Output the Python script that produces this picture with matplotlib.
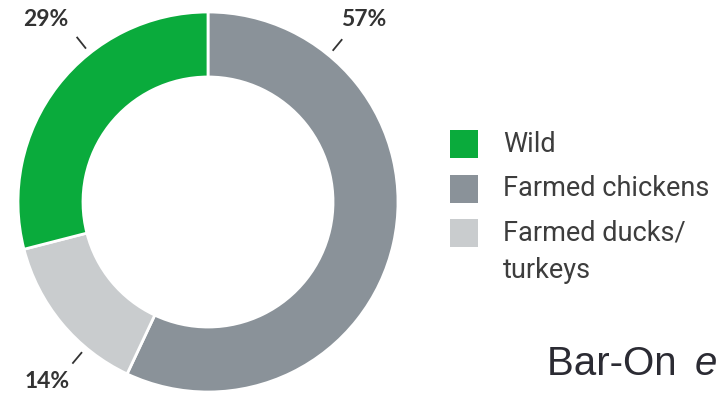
import matplotlib
matplotlib.use("Agg")
import matplotlib.pyplot as plt
from matplotlib.patches import Rectangle
import numpy as np

# Share of bird biomass by group
categories = ["Farmed chickens", "Farmed ducks/\nturkeys", "Wild"]
shares = [57, 14, 29]
colors = ["#8a9299", "#c9ccce", "#0aab3c"]
legend_order = [2, 0, 1]
pct_labels = ["57%", "14%", "29%"]

W, H = 720, 393
fig = plt.figure(figsize=(W / 100, H / 100), dpi=100)
ax = fig.add_axes([0, 0, 1, 1])

cx, cy, R = 208, H - 202, 190
ax.pie(shares, colors=colors, startangle=90, counterclock=False,
       radius=R, center=(cx, cy), frame=False,
       wedgeprops=dict(width=R * 0.342, edgecolor="white", linewidth=2))
ax.set_xlim(0, W)
ax.set_ylim(0, H)
ax.set_aspect("equal")
ax.axis("off")

# Percentage labels with short diagonal leader ticks
label_angles = [50.5, -130, 128.5]
label_pos = [(364, H - 19), (47, H - 381), (46, H - 19)]
for lab, ang, (tx, ty) in zip(pct_labels, label_angles, label_pos):
    a = np.deg2rad(ang)
    r0, r1 = 196, 211
    ax.plot([cx + r0 * np.cos(a), cx + r1 * np.cos(a)],
            [cy + r0 * np.sin(a), cy + r1 * np.sin(a)],
            color="#333333", lw=1.3, solid_capstyle="butt")
    ax.text(tx, ty, lab, ha="center", va="center", fontsize=16.5,
            fontweight="bold", family="Lato", color="#333333")

# Legend
sq = 28
rows_y = [H - 144, H - 189, H - 233]
for row, i in enumerate(legend_order):
    y = rows_y[row]
    ax.add_patch(Rectangle((450, y - sq / 2), sq, sq, color=colors[i], lw=0))
    for k, line in enumerate(categories[i].split("\n")):
        ax.text(503, y - k * 38, line, ha="left", va="center",
                fontsize=19.5, family="Roboto", color="#3d3d3d")

ax.text(547, H - 375, "Bar-On ", ha="left", va="baseline",
        fontsize=29, family="Liberation Sans", color="#2b2b33")
ax.text(695, H - 375, "e", ha="left", va="baseline", style="italic",
        fontsize=29, family="Liberation Sans", color="#2b2b33")

fig.savefig("out.png", dpi=100, facecolor="white")
